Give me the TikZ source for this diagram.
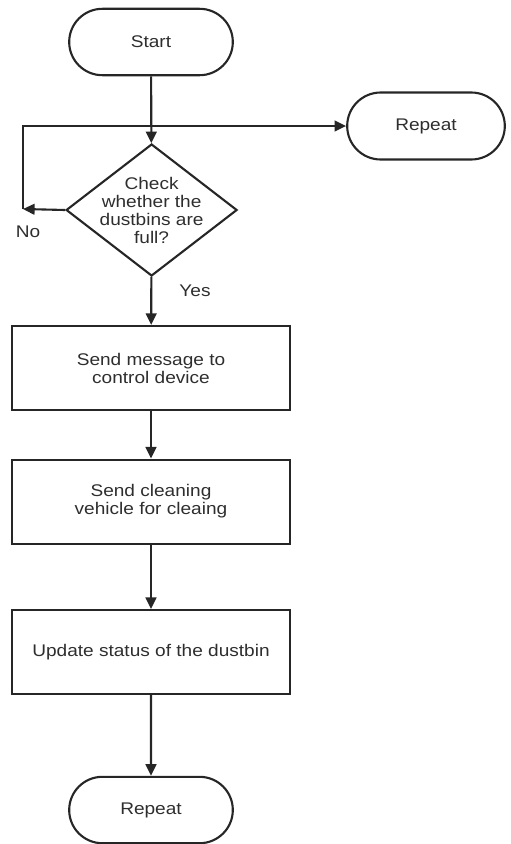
\documentclass[tikz,border=0pt]{standalone}
\usepackage{fontspec}
\setmainfont{Liberation Sans}[FakeStretch=1.13]
\usepackage{tikz}
\usetikzlibrary{shapes.geometric,shapes.misc,arrows.meta}
\usepackage{xcolor}
\definecolor{linegray}{HTML}{262626}
\definecolor{textgray}{HTML}{2E2E2E}

\begin{document}
\begin{tikzpicture}[
    scale=1,
    every node/.style={font=\fontsize{12}{12.8}\selectfont, text=textgray},
    terminal/.style={draw=linegray, line width=1.5pt, rounded rectangle, minimum width=4.325cm, minimum height=1.66cm},
    box/.style={draw=linegray, line width=1.5pt, minimum width=6.95cm, minimum height=2.1cm, align=center},
    decision/.style={draw=linegray, line width=1.5pt, diamond, inner sep=0pt, minimum width=4.275cm, minimum height=3.3cm},
    arrow/.style={-{Triangle[length=2.9mm,width=2.7mm]}, draw=linegray, line width=1.5pt}
]
\useasboundingbox (0,0) rectangle (12.75,-21.1);

% Main flow
\node[terminal] (start) at (3.775,-1.05) {Start};
\node[decision, label={[align=center, font=\fontsize{12}{12.8}\selectfont, text=textgray]center:Check\\whether the\\dustbins are\\full?}] (check) at (3.79,-5.25) {};
\node[box] (msg) at (3.775,-9.2) {Send message to\\control device};
\node[box] (send) at (3.775,-12.54) {Send cleaning\\vehicle for cleaing};
\node[box] (update) at (3.775,-16.3) {Update status of the dustbin};
\node[terminal] (repeatB) at (3.775,-20.25) {Repeat};

% Loop back
\node[terminal, minimum width=4.175cm, minimum height=1.675cm] (repeatR) at (10.65,-3.15) {Repeat};
\coordinate (nopt) at (0.575,-5.225);

% Arrows
\draw[arrow] (start) -- (check);
\draw[arrow] (check.west) -- (nopt);
\draw[arrow] (nopt) |- (repeatR.west);
\draw[arrow] (check) -- (msg);
\draw[arrow] (msg) -- (send);
\draw[arrow] (send) -- (update);
\draw[arrow] (update) -- (repeatB);

% Branch labels
\node (no) at (0.7,-5.8) {No};
\node (yes) at (4.875,-7.275) {Yes};

\end{tikzpicture}
\end{document}
